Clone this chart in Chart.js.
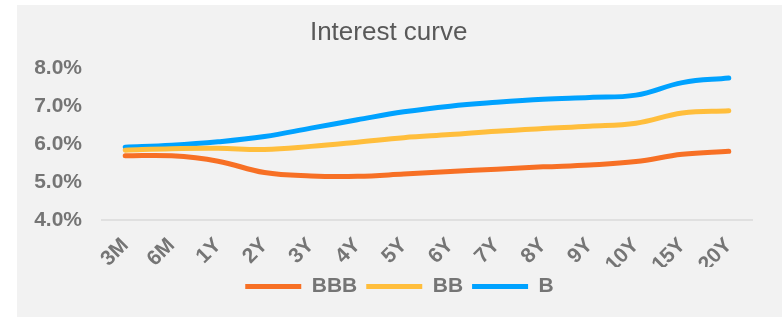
<!DOCTYPE html>
<html>
<head>
<meta charset="utf-8">
<script src="https://cdn.jsdelivr.net/npm/chart.js@4.4.1/dist/chart.umd.min.js"></script>
<style>
  body { margin: 0; background: #fff; }
  #wrap { position: absolute; left: 17px; top: 5px; width: 765px; height: 312px; background: #f2f2f2; }
</style>
</head>
<body>
<div id="wrap"><canvas id="curveChart"></canvas></div>
<script>
const tenors = ['3M', '6M', '1Y', '2Y', '3Y', '4Y', '5Y', '6Y', '7Y', '8Y', '9Y', '10Y', '15Y', '20Y'];
const bbb = [5.69, 5.69, 5.55, 5.25, 5.16, 5.15, 5.21, 5.28, 5.34, 5.40, 5.45, 5.54, 5.73, 5.81];
const bb = [5.84, 5.88, 5.89, 5.86, 5.94, 6.05, 6.17, 6.25, 6.34, 6.41, 6.47, 6.55, 6.82, 6.88];
const b = [5.92, 5.97, 6.06, 6.20, 6.42, 6.64, 6.85, 7.00, 7.10, 7.18, 7.23, 7.29, 7.62, 7.74];
const yTicks = [4, 5, 6, 7, 8];

const tickGrey = '#757575';

function series(label, data, color) {
    return {
        label: label,
        data: data,
        borderColor: color,
        backgroundColor: color,
        borderWidth: 5,
        borderCapStyle: 'round',
        pointRadius: 0,
        pointStyle: 'line',
        tension: 0.4,
        fill: false
    };
}

const ctx = document.getElementById('curveChart').getContext('2d');

const chart = new Chart(ctx, {
    type: 'line',
    data: {
        labels: tenors,
        datasets: [
            series('BBB', bbb, '#f77025'),
            series('BB', bb, '#ffbe3c'),
            series('B', b, '#00a2ff')
        ]
    },
    options: {
        responsive: true,
        maintainAspectRatio: false,
        animation: false,
        layout: { padding: { left: 0, right: 0, top: 0, bottom: 10 } },
        plugins: {
            title: {
                display: true,
                // trailing spaces nudge the centred title a little left, like the original
                text: 'Interest curve\u00a0\u00a0\u00a0',
                color: '#595959',
                font: { family: 'Liberation Sans', size: 26, weight: 'normal' },
                padding: { top: 12, bottom: 20 }
            },
            legend: {
                position: 'bottom',
                labels: {
                    usePointStyle: true,
                    pointStyleWidth: 56,
                    color: tickGrey,
                    font: { family: 'Liberation Sans', size: 21, weight: 'bold' },
                    padding: 9
                }
            },
            tooltip: { enabled: false }
        },
        scales: {
            x: {
                offset: true,
                grid: { display: false, drawTicks: false },
                border: { display: true, color: '#e0e0e0', width: 2 },
                afterFit: function (scale) { scale.height = 47; },
                ticks: {
                    color: tickGrey,
                    font: { family: 'Liberation Sans', size: 21, weight: 'bold' },
                    minRotation: 45,
                    maxRotation: 45,
                    padding: 13
                }
            },
            y: {
                min: yTicks[0],
                max: yTicks[yTicks.length - 1],
                grid: { display: false, drawTicks: false },
                border: { display: false },
                afterFit: function (scale) { scale.width = 85; },
                afterBuildTicks: function (scale) {
                    scale.ticks = yTicks.map(v => ({ value: v }));
                },
                ticks: {
                    color: tickGrey,
                    padding: 20,
                    font: { family: 'Liberation Sans', size: 21, weight: 'bold' },
                    callback: v => v.toFixed(1) + '%'
                }
            },
            // empty right-hand spacer, keeps the plot off the right edge
            spacer: {
                type: 'linear',
                position: 'right',
                grid: { display: false, drawTicks: false },
                border: { display: false },
                ticks: { display: false },
                afterFit: function (scale) { scale.width = 30; }
            }
        }
    }
});
</script>
</body>
</html>
